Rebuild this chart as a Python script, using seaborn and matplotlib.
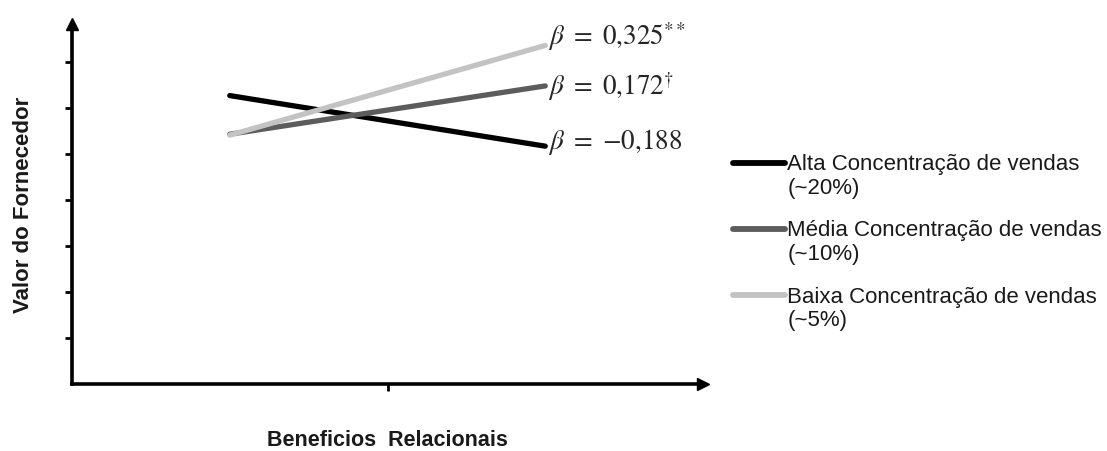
import numpy as np
import pandas as pd
import seaborn as sns
import matplotlib.pyplot as plt
from matplotlib.legend_handler import HandlerLine2D
from matplotlib.lines import Line2D

# ---- data ----
x_levels = [0.5, 1.5]          # Benefícios Relacionais: baixo (-1 DP) / alto (+1 DP)
groups = ["Alta Concentração de vendas\n(~20%)",
          "Média Concentração de vendas\n(~10%)",
          "Baixa Concentração de vendas\n(~5%)"]
alta = [6.27, 5.17]
media = [5.43, 6.48]
baixa = [5.41, 7.36]
beta_labels = [r"$\beta\ =\ {-}0{,}188$", r"$\beta\ =\ 0{,}172^{\dagger}$", r"$\beta\ =\ 0{,}325^{**}$"]
y_ticks = [1, 2, 3, 4, 5, 6, 7]
x_ticks = [1]

# ---- styles ----
colors = ["#000000", "#5c5c5c", "#c3c3c3"]
label_offsets = [4, 0, 7]   # points, vertical offset of beta labels

sns.set_style("white")
plt.rcParams["font.family"] = ["Liberation Sans", "DejaVu Sans"]
plt.rcParams["mathtext.fontset"] = "stix"

df = pd.DataFrame({
    "x": x_levels * 3,
    "y": alta + media + baixa,
    "grupo": [g for g in groups for _ in x_levels],
})

fig = plt.figure(figsize=(11.07, 4.52), dpi=100)
ax = fig.add_axes([72 / 1107, 1 - 385 / 452, (703 - 72) / 1107, (385 - 25) / 452])

sns.lineplot(data=df, x="x", y="y", hue="grupo", palette=colors, linewidth=3.8,
             ax=ax, legend=False, solid_capstyle="round")

ax.set_xlim(0, 2)
ax.set_ylim(0, (385 - 25) / 46)
ax.set_xticks(x_ticks)
ax.set_yticks(y_ticks)
ax.set_xticklabels([])
ax.set_yticklabels([])
ax.tick_params(axis="both", direction="out", length=5, width=2, color="black",
               left=True, bottom=True)
for s in ["top", "right"]:
    ax.spines[s].set_visible(False)
for s in ["left", "bottom"]:
    ax.spines[s].set_linewidth(2.6)
    ax.spines[s].set_color("black")

# arrow heads
ax.plot([0], [1], marker="^", markersize=9, color="black", transform=ax.transAxes, clip_on=False)
ax.plot([1], [0], marker=">", markersize=9, color="black", transform=ax.transAxes, clip_on=False)

ax.set_ylabel("Valor do Fornecedor", fontsize=16, fontweight="bold", labelpad=19, color="#1a1a1a")
ax.set_xlabel("Beneficios  Relacionais", fontsize=15.5, fontweight="bold", labelpad=24, color="#1a1a1a")

series = [alta, media, baixa]
for vals, lab, off in zip(series, beta_labels, label_offsets):
    ax.annotate(lab, xy=(x_levels[-1], vals[-1]), xytext=(2, off), textcoords="offset points",
                ha="left", va="center", fontsize=19.5, annotation_clip=False)


class UpHandler(HandlerLine2D):
    def create_artists(self, legend, orig_handle, xdescent, ydescent, width, height, fontsize, trans):
        arts = super().create_artists(legend, orig_handle, xdescent, ydescent, width, height, fontsize, trans)
        for a in arts:
            if isinstance(a, Line2D):
                a.set_ydata(np.asarray(a.get_ydata(), dtype=float) + fontsize * 0.58)
        return arts


handles = [Line2D([0], [0], color=c, linewidth=4.2) for c in colors]
leg = fig.legend(handles, groups, loc="upper left", bbox_to_anchor=(733 / 1107, 1 - 154 / 452),
                 frameon=False, fontsize=16, handlelength=2.35, handletextpad=0.1, borderpad=0,
                 labelspacing=0.98, borderaxespad=0, handler_map={Line2D: UpHandler()})
for t in leg.get_texts():
    t.set_linespacing(1.16)
    t.set_color("#1a1a1a")

fig.savefig("out.png", dpi=100)
